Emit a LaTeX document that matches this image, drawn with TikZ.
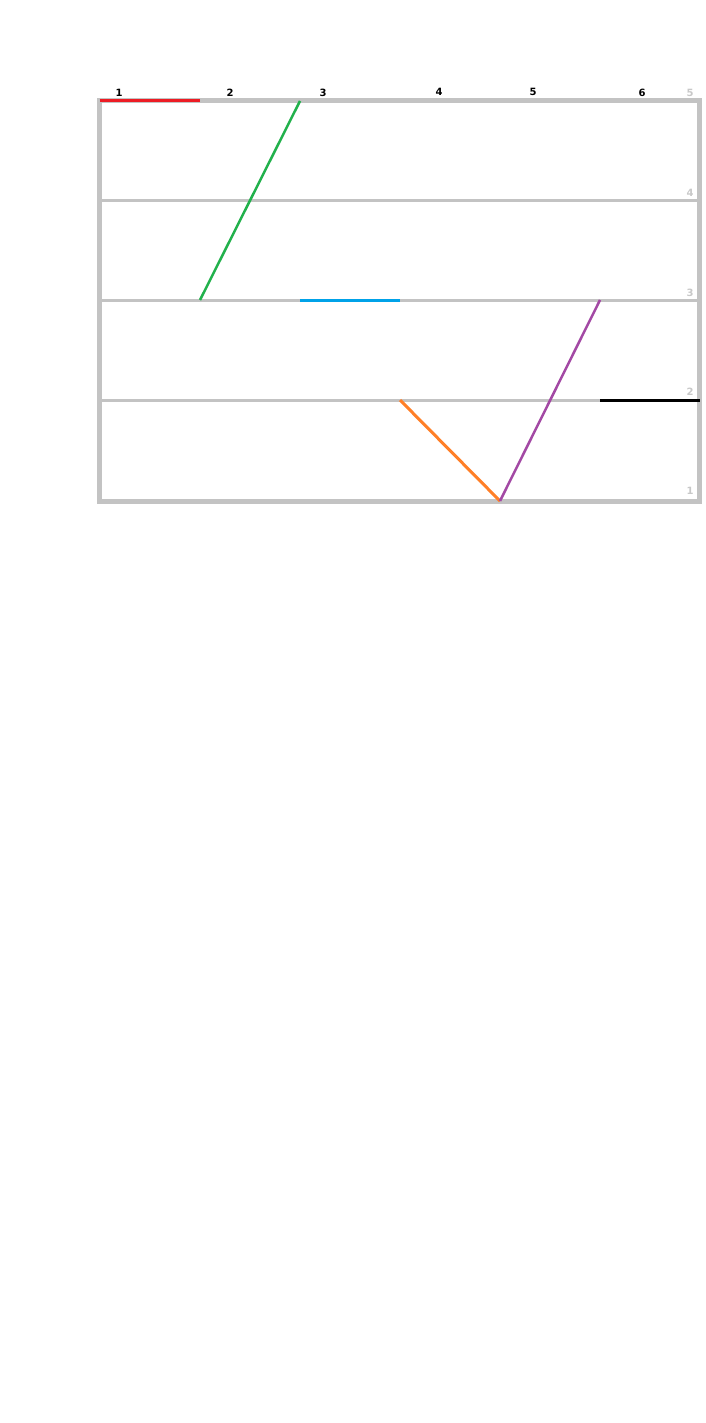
\documentclass[tikz,border=0pt]{standalone}
\usepackage{fontspec}
\setmainfont{DejaVu Sans}
\definecolor{gridgray}{RGB}{195,195,195}
\definecolor{lvlgray}{RGB}{200,200,200}
\definecolor{pred}{RGB}{237,28,36}
\definecolor{pgreen}{RGB}{34,177,76}
\definecolor{pblue}{RGB}{0,162,232}
\definecolor{porange}{RGB}{255,127,39}
\definecolor{ppurple}{RGB}{163,73,164}
\begin{document}
\begin{tikzpicture}[x=1pt,y=-1pt,
  frame/.style={draw=gridgray,line width=5pt},
  gridline/.style={draw=gridgray,line width=3pt},
  seg/.style={line width=3pt},
  toplabel/.style={font=\bfseries\fontsize{10}{11}\selectfont,text=black,inner sep=0pt},
  lvllabel/.style={font=\bfseries\fontsize{10}{11}\selectfont,text=lvlgray,inner sep=0pt}]
\useasboundingbox (0,0) rectangle (706,1423);
% grid coordinates
\foreach \c/\x in {0/99.5,1/200,2/300,3/400,4/500,5/600,6/699.5}{
  \foreach \l/\y in {5/101,4/201,3/300,2/400,1/501}{
    \coordinate (p\c-\l) at (\x,\y);
  }
}
% horizontal grid lines
\draw[gridline] (p0-4) -- (p6-4);
\draw[gridline] (p0-3) -- (p6-3);
\draw[gridline] (p0-2) -- (p6-2);
\draw[frame] (p0-5) rectangle (p6-1);
% segments
\draw[seg,pred] (p0-5) -- (p1-5);
\draw[seg,pgreen,line width=2.5pt] (p2-5) -- (p1-3);
\draw[seg,pblue] (p2-3) -- (p3-3);
\draw[seg,porange] (p3-2) -- (p4-1);
\draw[seg,ppurple,line width=2.5pt] (p4-1) -- (p5-3);
\draw[seg,black] (p5-2) -- (p6-2);
% top labels
\node[toplabel] (c1) at (119,93) {1};
\node[toplabel] (c2) at (230,93) {2};
\node[toplabel] (c3) at (323,93) {3};
\node[toplabel] (c4) at (439,92) {4};
\node[toplabel] (c5) at (533,92) {5};
\node[toplabel] (c6) at (642,93) {6};
% level labels
\node[lvllabel] (l5) at (690,93) {5};
\node[lvllabel] (l4) at (690,193) {4};
\node[lvllabel] (l3) at (690,293) {3};
\node[lvllabel] (l2) at (690,392) {2};
\node[lvllabel] (l1) at (690,491) {1};
\end{tikzpicture}
\end{document}
